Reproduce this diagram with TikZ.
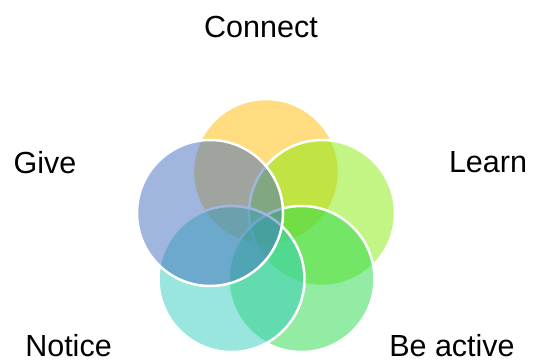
\documentclass[tikz,border=0pt]{standalone}
\usepackage{fontspec}
\setmainfont{Liberation Sans}
\definecolor{cyellow}{RGB}{255,185,1}
\definecolor{cblue}{RGB}{65,109,189}
\definecolor{clime}{RGB}{133,235,9}
\definecolor{cteal}{RGB}{51,205,189}
\definecolor{cgreen}{RGB}{37,217,71}
\tikzset{
  petal/.style={circle, minimum size=146pt, inner sep=0pt, draw=white, line width=2.5pt, fill opacity=0.5, draw opacity=1},
  lbl/.style={font=\fontsize{30.5}{36}\selectfont, anchor=base, inner sep=0pt, text=black}
}
\begin{document}
\begin{tikzpicture}[x=1pt,y=-1pt]
\useasboundingbox (0,0) rectangle (534,359);
\node[petal, fill=cyellow] (connect) at (266,172) {};
\node[petal, fill=clime] (learn) at (322,213) {};
\node[petal, fill=cgreen] (beactive) at (301.5,279) {};
\node[petal, fill=cteal] (notice) at (231.5,279) {};
\node[petal, fill=cblue] (give) at (210,213) {};
\node[lbl] (tconnect) at (261,37) {Connect};
\node[lbl] (tgive) at (45,173) {Give};
\node[lbl] (tlearn) at (488,172) {Learn};
\node[lbl] (tnotice) at (68.5,356) {Notice};
\node[lbl] (tbeactive) at (452,356) {Be active};
\end{tikzpicture}
\end{document}
